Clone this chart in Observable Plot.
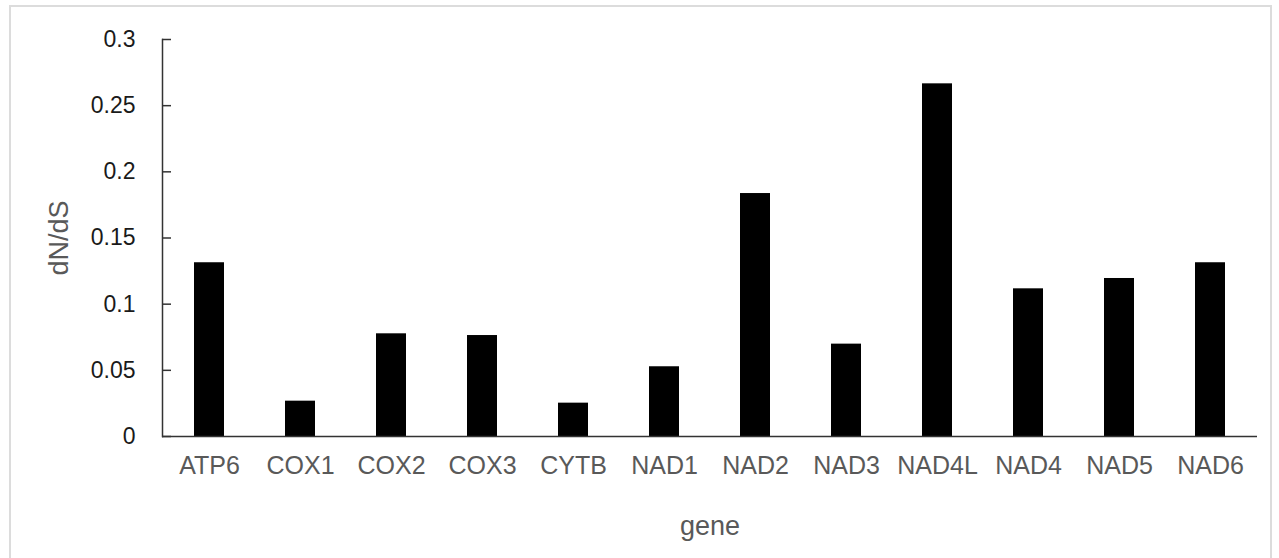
<!DOCTYPE html>
<html>
<head>
<meta charset="utf-8">
<script src="https://cdn.jsdelivr.net/npm/d3@7"></script>
<script src="https://cdn.jsdelivr.net/npm/@observablehq/plot@0.6"></script>
<style>
  html, body { margin: 0; padding: 0; background: #fff; }
  #wrap { position: relative; width: 1279px; height: 558px; overflow: hidden; }
  #border { position: absolute; left: 9px; top: 5px; width: 1263px; height: 600px; border: 2px solid #dcdcdc; box-sizing: border-box; pointer-events: none; }
  svg { font-family: "Liberation Sans", Arial, sans-serif; }
</style>
</head>
<body>
<div id="wrap"><div id="border"></div></div>
<script>
const genes = ["ATP6", "COX1", "COX2", "COX3", "CYTB", "NAD1", "NAD2", "NAD3", "NAD4L", "NAD4", "NAD5", "NAD6"];
const dnds = [0.1313, 0.0267, 0.0776, 0.0763, 0.0252, 0.0527, 0.1836, 0.0698, 0.2665, 0.1116, 0.1194, 0.1313];
const yTicks = [0, 0.05, 0.1, 0.15, 0.2, 0.25, 0.3];
const yTickLabels = ["0", "0.05", "0.1", "0.15", "0.2", "0.25", "0.3"];

const data = genes.map((g, i) => ({gene: g, value: dnds[i]}));

const chart = Plot.plot({
  width: 1279,
  height: 558,
  marginLeft: 162,
  marginRight: 22,
  marginTop: 39,
  marginBottom: 122,
  style: {fontFamily: "'Liberation Sans', Arial, sans-serif", background: "transparent"},
  x: {domain: genes, paddingInner: 0.67, paddingOuter: 0.335, align: 0.5},
  y: {domain: [0, 0.3]},
  marks: [
    Plot.barY(data, {x: "gene", y: "value", fill: "#000"}),
    Plot.ruleY([0], {stroke: "#333", strokeWidth: 1.5}),
    Plot.frame({anchor: "left", stroke: "#333", strokeWidth: 1.5}),
    Plot.axisY(yTicks, {
      tickSize: 0, tickPadding: 27, fontSize: 23, fill: "#1a1a1a",
      tickFormat: (d, i) => yTickLabels[i], label: null
    }),
    Plot.axisY([], {label: "dN/dS", labelAnchor: "center", labelOffset: 114, labelArrow: "none", fontSize: 27, fill: "#595959"}),
    Plot.axisY(yTicks, {tickSize: -9, text: null, stroke: "#333", strokeWidth: 1.5, label: null}),
    Plot.axisX({
      tickSize: 0, tickPadding: 20, fontSize: 25, fill: "#595959", label: null
    }),
    Plot.axisX([], {label: "gene", labelAnchor: "center", labelOffset: 98, labelArrow: "none", fontSize: 27, fill: "#595959"})
  ]
});
document.getElementById("wrap").appendChild(chart);
</script>
</body>
</html>
